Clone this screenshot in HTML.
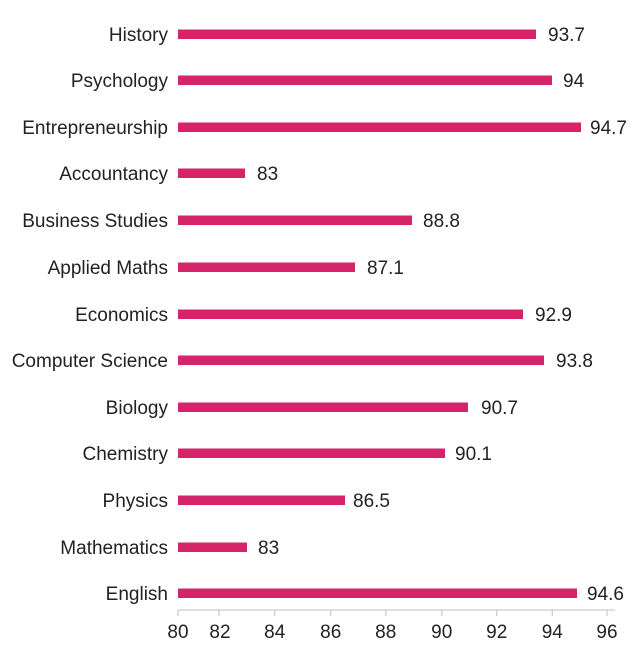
<!DOCTYPE html>
<html><head><meta charset="utf-8"><style>html,body{margin:0;padding:0;background:#fff}</style></head>
<body>
<svg width="640" height="640" viewBox="0 0 640 640" xmlns="http://www.w3.org/2000/svg" font-family="Liberation Sans, sans-serif">
<g fill="#222" font-size="19" text-anchor="end">
<text x="168" y="41">History</text>
<text x="168" y="87">Psychology</text>
<text x="168" y="134">Entrepreneurship</text>
<text x="168" y="180">Accountancy</text>
<text x="168" y="227">Business Studies</text>
<text x="168" y="274">Applied Maths</text>
<text x="168" y="321">Economics</text>
<text x="168" y="367">Computer Science</text>
<text x="168" y="414">Biology</text>
<text x="168" y="460">Chemistry</text>
<text x="168" y="507">Physics</text>
<text x="168" y="554">Mathematics</text>
<text x="168" y="600">English</text>
</g>
<g fill="#d6246a">
<rect x="178" y="29.5" width="358" height="9.5"/>
<rect x="178" y="75.5" width="374" height="9.5"/>
<rect x="178" y="122.5" width="403" height="9.5"/>
<rect x="178" y="168.5" width="67" height="9.5"/>
<rect x="178" y="215.5" width="234" height="9.5"/>
<rect x="178" y="262.5" width="177" height="9.5"/>
<rect x="178" y="309.5" width="345" height="9.5"/>
<rect x="178" y="355.5" width="366" height="9.5"/>
<rect x="178" y="402.5" width="290" height="9.5"/>
<rect x="178" y="448.5" width="267" height="9.5"/>
<rect x="178" y="495.5" width="167" height="9.5"/>
<rect x="178" y="542.5" width="69" height="9.5"/>
<rect x="178" y="588.5" width="399" height="9.5"/>
</g>
<g fill="#222" font-size="19">
<text x="548" y="41">93.7</text>
<text x="563" y="87">94</text>
<text x="590" y="134">94.7</text>
<text x="257" y="180">83</text>
<text x="423" y="227">88.8</text>
<text x="367" y="274">87.1</text>
<text x="535" y="321">92.9</text>
<text x="556" y="367">93.8</text>
<text x="481" y="414">90.7</text>
<text x="455" y="460">90.1</text>
<text x="353" y="507">86.5</text>
<text x="258" y="554">83</text>
<text x="587" y="600">94.6</text>
</g>
<g stroke="#ccc" stroke-width="1.3">
<line x1="178" y1="610" x2="615" y2="610"/>
<line x1="178" y1="610" x2="178" y2="616"/>
<line x1="219" y1="610" x2="219" y2="616"/>
<line x1="274.7" y1="610" x2="274.7" y2="616"/>
<line x1="330.7" y1="610" x2="330.7" y2="616"/>
<line x1="385.7" y1="610" x2="385.7" y2="616"/>
<line x1="441.7" y1="610" x2="441.7" y2="616"/>
<line x1="496.7" y1="610" x2="496.7" y2="616"/>
<line x1="552.3" y1="610" x2="552.3" y2="616"/>
<line x1="607" y1="610" x2="607" y2="616"/>
</g>
<g fill="#222" font-size="19" text-anchor="middle">
<text x="178" y="638">80</text>
<text x="220" y="638">82</text>
<text x="274.7" y="638">84</text>
<text x="330.7" y="638">86</text>
<text x="385.7" y="638">88</text>
<text x="441.7" y="638">90</text>
<text x="496.7" y="638">92</text>
<text x="552.3" y="638">94</text>
<text x="607" y="638">96</text>
</g>
</svg>
</body></html>
